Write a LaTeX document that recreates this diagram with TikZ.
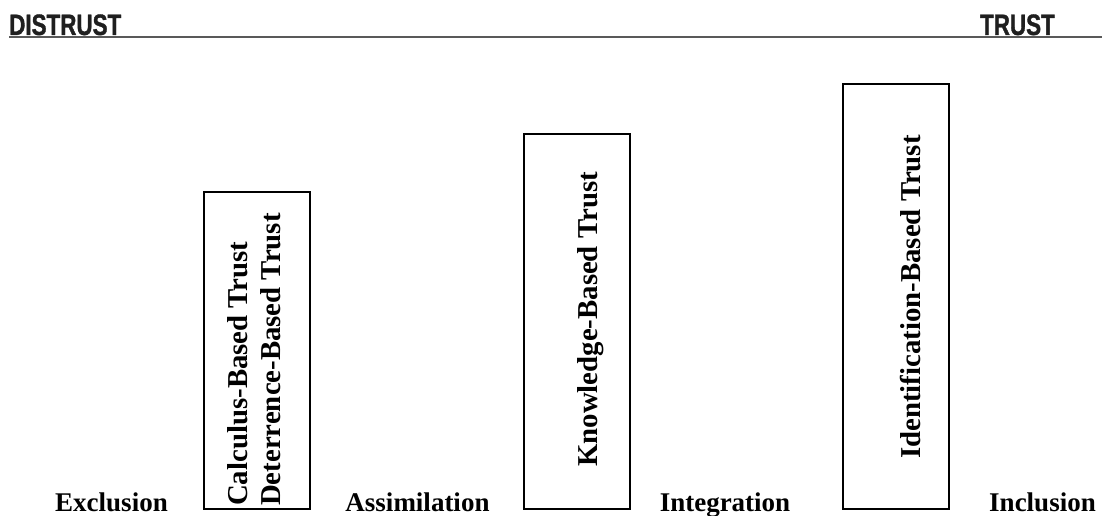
\documentclass[tikz,border=0pt]{standalone}
\usepackage{fontspec}
\setmainfont{Liberation Serif}
\newfontfamily\headfont[FakeStretch=0.76, FakeBold=1.2]{Liberation Sans}

\begin{document}
\begin{tikzpicture}[x=1pt, y=1pt,
        heading/.style={font=\headfont\bfseries\fontsize{29.5}{30}\selectfont, text=black!88, inner sep=0pt},
        stage/.style={font=\bfseries\fontsize{27}{30}\selectfont, anchor=base, inner sep=0pt},
        trustbox/.style={draw, line width=1.6pt, minimum width=106pt, inner sep=0pt, anchor=south west},
        boxtext/.style={font=\bfseries\fontsize{28.8}{33}\selectfont, rotate=90, anchor=west, inner sep=0pt, align=left}]
        \useasboundingbox (0,0) rectangle (1102,515);

        % Header:
        \node [heading, anchor=base west] (distrust) at (9,480) {DISTRUST};
        \node [heading, anchor=base east] (trust) at (1055,480) {TRUST};
        \coordinate (rulestart) at (9,478);
        \coordinate (ruleend) at (1102,478);
        \draw [black!65, line width=1.5pt] (rulestart) -- (ruleend);

        % Trust boxes:
        \node [trustbox, minimum height=317pt] (calcbox) at (203,5) {};
        \node [trustbox, minimum height=375pt] (knowbox) at (523,5) {};
        \node [trustbox, minimum height=425pt] (identbox) at (842,5) {};

        % Box texts:
        \node [boxtext] (calctext) at (254,9) {Calculus-Based Trust\\Deterrence-Based Trust};
        \node [boxtext] (knowtext) at (591,48) {Knowledge-Based Trust};
        \node [boxtext] (identtext) at (911,56) {Identification-Based Trust};

        % Stages:
        \node [stage] (exclusion) at (111.5,4) {Exclusion};
        \node [stage] (assimilation) at (417.5,4) {Assimilation};
        \node [stage] (integration) at (725,4) {Integration};
        \node [stage] (inclusion) at (1042.5,4) {Inclusion};

    \end{tikzpicture}
\end{document}
